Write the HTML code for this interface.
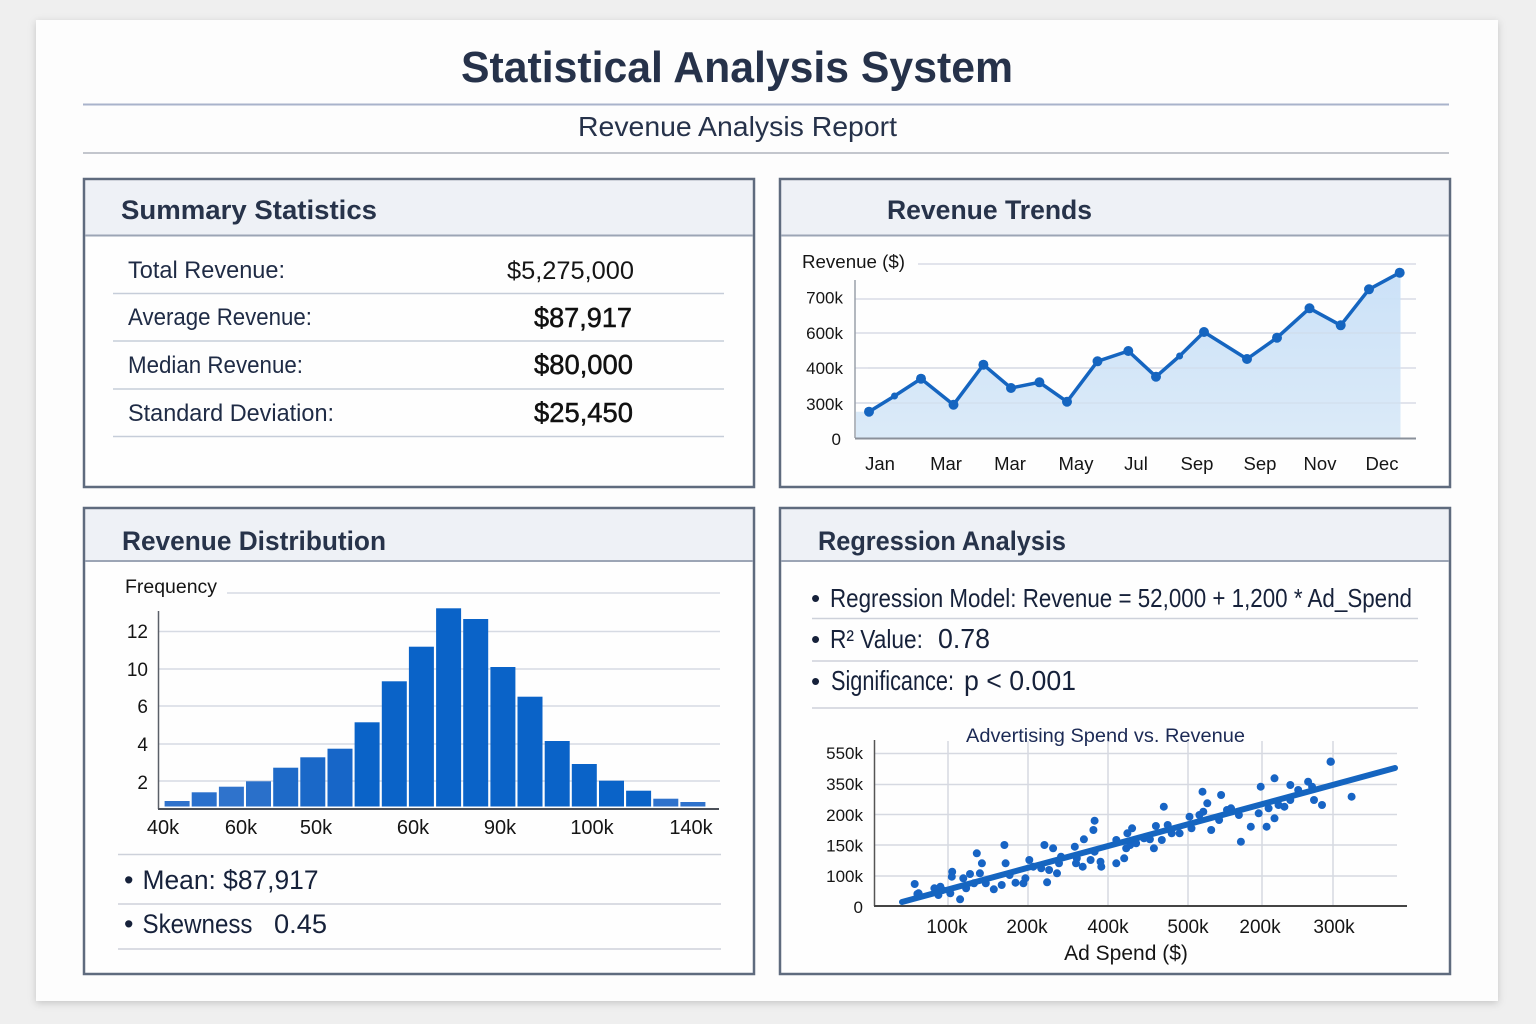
<!DOCTYPE html>
<html><head><meta charset="utf-8"><style>
html,body{margin:0;padding:0;background:#efefef;}
svg{display:block;}
text{font-family:"Liberation Sans",sans-serif;}
</style></head><body>
<svg width="1536" height="1024" viewBox="0 0 1536 1024" xmlns="http://www.w3.org/2000/svg">
<defs>
<filter id="sh" x="-5%" y="-5%" width="110%" height="110%"><feDropShadow dx="0" dy="2" stdDeviation="4" flood-color="#000" flood-opacity="0.18"/></filter>
<linearGradient id="fillg" x1="0" y1="0" x2="0" y2="1"><stop offset="0" stop-color="#c9e0f7"/><stop offset="1" stop-color="#d9e9f8"/></linearGradient>
</defs>
<rect width="1536" height="1024" fill="#efefef"/>
<rect x="36" y="20" width="1462" height="981" fill="#fdfdfd" filter="url(#sh)"/>

<!-- Title -->
<text x="461" y="82" font-size="44" font-weight="bold" fill="#26324a" textLength="552" lengthAdjust="spacingAndGlyphs">Statistical Analysis System</text>
<line x1="83" y1="104.5" x2="1449" y2="104.5" stroke="#a9b3cb" stroke-width="2"/>
<text x="578" y="136" font-size="28" fill="#26324a" textLength="319" lengthAdjust="spacingAndGlyphs">Revenue Analysis Report</text>
<line x1="83" y1="153" x2="1449" y2="153" stroke="#c3c6cd" stroke-width="2"/>

<!-- Panels -->
<g stroke="#5f6b7e" stroke-width="2.5">
<rect x="84" y="179" width="670" height="308" fill="#fefefe"/>
<rect x="780" y="179" width="670" height="308" fill="#fefefe"/>
<rect x="84" y="508" width="670" height="466" fill="#fefefe"/>
<rect x="780" y="508" width="670" height="466" fill="#fefefe"/>
</g>
<g fill="#eef1f6">
<rect x="85.5" y="180.5" width="667" height="54"/>
<rect x="781.5" y="180.5" width="667" height="54"/>
<rect x="85.5" y="509.5" width="667" height="51"/>
<rect x="781.5" y="509.5" width="667" height="51"/>
</g>
<g stroke="#9ca5b5" stroke-width="2">
<line x1="85" y1="235.5" x2="753" y2="235.5"/>
<line x1="781" y1="235.5" x2="1449" y2="235.5"/>
<line x1="85" y1="561" x2="753" y2="561"/>
<line x1="781" y1="561" x2="1449" y2="561"/>
</g>
<g font-size="27" font-weight="bold" fill="#27334a">
<text x="121" y="219" textLength="256" lengthAdjust="spacingAndGlyphs">Summary Statistics</text>
<text x="887" y="219" textLength="205" lengthAdjust="spacingAndGlyphs">Revenue Trends</text>
<text x="122" y="550" textLength="264" lengthAdjust="spacingAndGlyphs">Revenue Distribution</text>
<text x="818" y="550" textLength="248" lengthAdjust="spacingAndGlyphs">Regression Analysis</text>
</g>

<!-- Summary statistics -->
<g stroke="#c6cdd9" stroke-width="1.5">
<line x1="113" y1="293.5" x2="724" y2="293.5"/>
<line x1="113" y1="341" x2="724" y2="341"/>
<line x1="113" y1="389" x2="724" y2="389"/>
<line x1="113" y1="436.5" x2="724" y2="436.5"/>
</g>
<g font-size="24" fill="#1f2b45">
<text x="128" y="278" textLength="157" lengthAdjust="spacingAndGlyphs">Total Revenue:</text>
<text x="128" y="325" textLength="184" lengthAdjust="spacingAndGlyphs">Average Revenue:</text>
<text x="128" y="373" textLength="175" lengthAdjust="spacingAndGlyphs">Median Revenue:</text>
<text x="128" y="421" textLength="206" lengthAdjust="spacingAndGlyphs">Standard Deviation:</text>
</g>
<text x="507" y="279" font-size="25" fill="#151515" textLength="127" lengthAdjust="spacingAndGlyphs">$5,275,000</text>
<g font-size="27.5" fill="#111" stroke="#111" stroke-width="0.5">
<text x="534" y="327" textLength="98" lengthAdjust="spacingAndGlyphs">$87,917</text>
<text x="534" y="374" textLength="99" lengthAdjust="spacingAndGlyphs">$80,000</text>
<text x="534" y="422" textLength="99" lengthAdjust="spacingAndGlyphs">$25,450</text>
</g>

<!-- Revenue Trends chart -->
<text x="802" y="268" font-size="18" fill="#151515" textLength="103" lengthAdjust="spacingAndGlyphs">Revenue ($)</text>
<g stroke="#d8dce5" stroke-width="1.5">
<line x1="918" y1="264" x2="1416" y2="264"/>
<line x1="855" y1="299" x2="1416" y2="299"/>
<line x1="855" y1="333" x2="1416" y2="333"/>
<line x1="855" y1="368" x2="1416" y2="368"/>
<line x1="855" y1="403" x2="1416" y2="403"/>
</g>
<polygon fill="url(#fillg)" opacity="0.95" points="856,411.7 869,411.7 894.5,396 921,378.7 953.5,404.7 983.4,364.7 1011,388 1039.4,382.3 1067,401.7 1097.5,361.3 1128.3,351 1156,376.7 1179.6,356 1204,332 1247,359 1277,337.7 1309.5,308.3 1340.7,325.3 1369,289.3 1400.5,272.7 1400.5,438 856,438"/>
<g stroke="#d0d6e2" stroke-width="1" opacity="0.6">
<line x1="856" y1="403" x2="1400" y2="403"/>
<line x1="868" y1="368" x2="1400" y2="368"/>
<line x1="1000" y1="333" x2="1400" y2="333"/>
</g>
<line x1="855" y1="280" x2="855" y2="438" stroke="#9aa0aa" stroke-width="1.5"/>
<line x1="855" y1="438.5" x2="1416" y2="438.5" stroke="#8a909a" stroke-width="2"/>
<polyline fill="none" stroke="#1565c0" stroke-width="3.5" stroke-linejoin="round" points="869,411.7 894.5,396 921,378.7 953.5,404.7 983.4,364.7 1011,388 1039.4,382.3 1067,401.7 1097.5,361.3 1128.3,351 1156,376.7 1179.6,356 1204,332 1247,359 1277,337.7 1309.5,308.3 1340.7,325.3 1369,289.3 1399.7,272.7"/>
<g fill="#1565c0">
<circle cx="869" cy="411.7" r="5"/><circle cx="894.5" cy="396" r="3.5"/><circle cx="921" cy="378.7" r="5"/><circle cx="953.5" cy="404.7" r="5"/><circle cx="983.4" cy="364.7" r="5"/><circle cx="1011" cy="388" r="5"/><circle cx="1039.4" cy="382.3" r="5"/><circle cx="1067" cy="401.7" r="5"/><circle cx="1097.5" cy="361.3" r="5"/><circle cx="1128.3" cy="351" r="5"/><circle cx="1156" cy="376.7" r="5"/><circle cx="1179.6" cy="356" r="3.5"/><circle cx="1204" cy="332" r="5"/><circle cx="1247" cy="359" r="5"/><circle cx="1277" cy="337.7" r="5"/><circle cx="1309.5" cy="308.3" r="5"/><circle cx="1340.7" cy="325.3" r="5"/><circle cx="1369" cy="289.3" r="5"/><circle cx="1399.7" cy="272.7" r="5"/>
</g>
<g font-size="17" fill="#151515" text-anchor="end">
<text x="843" y="303.5">700k</text>
<text x="843" y="339">600k</text>
<text x="843" y="374">400k</text>
<text x="843" y="410">300k</text>
<text x="841" y="445">0</text>
</g>
<g font-size="18.5" fill="#151515" text-anchor="middle">
<text x="880" y="470">Jan</text>
<text x="946" y="470">Mar</text>
<text x="1010" y="470">Mar</text>
<text x="1076" y="470">May</text>
<text x="1136" y="470">Jul</text>
<text x="1197" y="470">Sep</text>
<text x="1260" y="470">Sep</text>
<text x="1320" y="470">Nov</text>
<text x="1382" y="470">Dec</text>
</g>

<!-- Histogram -->
<text x="125" y="593" font-size="19" fill="#151515" textLength="92" lengthAdjust="spacingAndGlyphs">Frequency</text>
<g stroke="#d6dae3" stroke-width="1.5">
<line x1="227" y1="593" x2="720" y2="593"/>
<line x1="158" y1="631.5" x2="720" y2="631.5"/>
<line x1="158" y1="669" x2="720" y2="669"/>
<line x1="158" y1="706" x2="720" y2="706"/>
<line x1="158" y1="744" x2="720" y2="744"/>
<line x1="158" y1="781" x2="720" y2="781"/>
</g>
<g fill="#0a63c8">
<rect x="164.6" y="801" width="25" height="5.5" fill="#2f72cc"/>
<rect x="191.7" y="792.3" width="25" height="14.2" fill="#2a70cc"/>
<rect x="218.9" y="786.7" width="25" height="19.8" fill="#2f73cc"/>
<rect x="246" y="781.3" width="25" height="25.2" fill="#2a70ca"/>
<rect x="273.2" y="767.7" width="25" height="38.8" fill="#1e6ac8"/>
<rect x="300.3" y="757.3" width="25" height="49.2" fill="#1a68c8"/>
<rect x="327.5" y="748.7" width="25" height="57.8" fill="#1766c8"/>
<rect x="354.6" y="722.3" width="25" height="84.2"/>
<rect x="381.8" y="681.3" width="25" height="125.2"/>
<rect x="408.9" y="646.7" width="25" height="159.8"/>
<rect x="436.1" y="608.3" width="25" height="198.2"/>
<rect x="463.2" y="619" width="25" height="187.5"/>
<rect x="490.4" y="667" width="25" height="139.5"/>
<rect x="517.5" y="696.7" width="25" height="109.8"/>
<rect x="544.7" y="741" width="25" height="65.5"/>
<rect x="571.8" y="764" width="25" height="42.5"/>
<rect x="599" y="780.7" width="25" height="25.8"/>
<rect x="626.1" y="790.7" width="25" height="15.8"/>
<rect x="653.3" y="798.7" width="25" height="7.8" fill="#2f72cc"/>
<rect x="680.4" y="802" width="25" height="4.5" fill="#2f72cc"/>
</g>
<line x1="158.5" y1="611" x2="158.5" y2="809" stroke="#5a5f68" stroke-width="1.5"/>
<line x1="158" y1="809" x2="719" y2="809" stroke="#4a4f58" stroke-width="2"/>
<g font-size="19" fill="#151515" text-anchor="end">
<text x="148" y="638">12</text>
<text x="148" y="676">10</text>
<text x="148" y="713">6</text>
<text x="148" y="751">4</text>
<text x="148" y="789">2</text>
</g>
<g font-size="20" fill="#151515" text-anchor="middle">
<text x="163" y="834">40k</text>
<text x="241" y="834">60k</text>
<text x="316" y="834">50k</text>
<text x="413" y="834">60k</text>
<text x="500" y="834">90k</text>
<text x="592" y="834">100k</text>
<text x="691" y="834">140k</text>
</g>
<g stroke="#cdd1da" stroke-width="1.5">
<line x1="118" y1="854.5" x2="721" y2="854.5"/>
<line x1="118" y1="904" x2="721" y2="904"/>
<line x1="118" y1="949" x2="721" y2="949"/>
</g>
<g font-size="27" fill="#16213a">
<text x="124" y="889">•</text>
<text x="142.5" y="889" textLength="176" lengthAdjust="spacingAndGlyphs">Mean: $87,917</text>
<text x="124" y="933">•</text>
<text x="142.5" y="933" textLength="110" lengthAdjust="spacingAndGlyphs">Skewness</text>
<text x="274" y="933" textLength="53" lengthAdjust="spacingAndGlyphs">0.45</text>
</g>

<!-- Regression -->
<g stroke="#cdd1da" stroke-width="1.5">
<line x1="812" y1="618.5" x2="1418" y2="618.5"/>
<line x1="812" y1="661" x2="1418" y2="661"/>
<line x1="812" y1="708" x2="1418" y2="708"/>
</g>
<g font-size="26" fill="#16213a">
<text x="811" y="607">•</text>
<text x="830" y="607" textLength="582" lengthAdjust="spacingAndGlyphs">Regression Model: Revenue = 52,000 + 1,200 * Ad_Spend</text>
<text x="811" y="648">•</text>
<text x="830" y="648" textLength="93" lengthAdjust="spacingAndGlyphs">R² Value:</text>
<text x="938" y="648" font-size="28" textLength="52" lengthAdjust="spacingAndGlyphs">0.78</text>
<text x="811" y="690">•</text>
<text x="831" y="690" font-size="28" textLength="123" lengthAdjust="spacingAndGlyphs">Significance:</text>
<text x="964" y="690" font-size="28" textLength="112" lengthAdjust="spacingAndGlyphs">p &lt; 0.001</text>
</g>

<!-- Scatter -->
<text x="966" y="742" font-size="19.5" fill="#1c2a55" textLength="279" lengthAdjust="spacingAndGlyphs">Advertising Spend vs. Revenue</text>
<g stroke="#d6d9e1" stroke-width="1.5">
<line x1="874" y1="753.5" x2="1397" y2="753.5"/>
<line x1="874" y1="784.5" x2="1397" y2="784.5"/>
<line x1="874" y1="814.5" x2="1397" y2="814.5"/>
<line x1="874" y1="845" x2="1397" y2="845"/>
<line x1="874" y1="876" x2="1397" y2="876"/>
<line x1="948" y1="741" x2="948" y2="906"/>
<line x1="1028" y1="741" x2="1028" y2="906"/>
<line x1="1108" y1="741" x2="1108" y2="906"/>
<line x1="1188" y1="741" x2="1188" y2="906"/>
<line x1="1262" y1="741" x2="1262" y2="906"/>
<line x1="1333" y1="741" x2="1333" y2="906"/>
</g>
<line x1="874.5" y1="740" x2="874.5" y2="906" stroke="#555" stroke-width="1.5"/>
<line x1="874" y1="906" x2="1407" y2="906" stroke="#444" stroke-width="2"/>
<g fill="#1764c4">
<circle cx="914.7" cy="884" r="4"/><circle cx="917.4" cy="894" r="4"/><circle cx="918.6" cy="893.3" r="4"/><circle cx="934.4" cy="888.3" r="4"/><circle cx="936.4" cy="891.7" r="4"/><circle cx="938.4" cy="895" r="4"/><circle cx="940.4" cy="886.7" r="4"/><circle cx="942.3" cy="890" r="4"/><circle cx="950.3" cy="893.3" r="4"/><circle cx="951.8" cy="876.7" r="4"/><circle cx="952.2" cy="871.7" r="4"/><circle cx="960.1" cy="899.3" r="4"/><circle cx="963.3" cy="878.3" r="4"/><circle cx="966.1" cy="888.3" r="4"/><circle cx="970" cy="874" r="4"/><circle cx="974" cy="883.3" r="4"/><circle cx="976.8" cy="853.3" r="4"/><circle cx="979.9" cy="873.3" r="4"/><circle cx="981.9" cy="863.3" r="4"/><circle cx="985.8" cy="883.3" r="4"/><circle cx="993.8" cy="889.3" r="4"/><circle cx="1001.7" cy="885" r="4"/><circle cx="1004.4" cy="845" r="4"/><circle cx="1005.6" cy="863.3" r="4"/><circle cx="1009.6" cy="875" r="4"/><circle cx="1015.5" cy="882.7" r="4"/><circle cx="1023.4" cy="883.3" r="4"/><circle cx="1025.4" cy="878.3" r="4"/><circle cx="1029.3" cy="860" r="4"/><circle cx="1033.3" cy="866.7" r="4"/><circle cx="1041.2" cy="868.3" r="4"/><circle cx="1044.4" cy="845" r="4"/><circle cx="1047.1" cy="882.3" r="4"/><circle cx="1049.1" cy="870" r="4"/><circle cx="1053.1" cy="848.3" r="4"/><circle cx="1057" cy="873.3" r="4"/><circle cx="1059" cy="863.3" r="4"/><circle cx="1061" cy="856.7" r="4"/><circle cx="1074.8" cy="846.7" r="4"/><circle cx="1076" cy="863.3" r="4"/><circle cx="1076.8" cy="858.3" r="4"/><circle cx="1082.7" cy="866.7" r="4"/><circle cx="1083.9" cy="839.3" r="4"/><circle cx="1090.6" cy="860" r="4"/><circle cx="1093.4" cy="830" r="4"/><circle cx="1094.6" cy="820.7" r="4"/><circle cx="1094.6" cy="851.7" r="4"/><circle cx="1100.5" cy="861.7" r="4"/><circle cx="1101.3" cy="866.7" r="4"/><circle cx="1116.3" cy="863.3" r="4"/><circle cx="1116.3" cy="840" r="4"/><circle cx="1124.2" cy="858.3" r="4"/><circle cx="1126.2" cy="848.3" r="4"/><circle cx="1127.4" cy="833.3" r="4"/><circle cx="1130.2" cy="845" r="4"/><circle cx="1132.1" cy="828.3" r="4"/><circle cx="1136.1" cy="843.3" r="4"/><circle cx="1144" cy="838.3" r="4"/><circle cx="1149.9" cy="839.3" r="4"/><circle cx="1153.9" cy="848.3" r="4"/><circle cx="1155.9" cy="826" r="4"/><circle cx="1161.8" cy="840" r="4"/><circle cx="1163.8" cy="806.7" r="4"/><circle cx="1167.7" cy="825" r="4"/><circle cx="1171.7" cy="833.3" r="4"/><circle cx="1179.6" cy="833.3" r="4"/><circle cx="1189.5" cy="816.7" r="4"/><circle cx="1191.5" cy="828.3" r="4"/><circle cx="1199.4" cy="815" r="4"/><circle cx="1202.5" cy="791.7" r="4"/><circle cx="1203.3" cy="811.7" r="4"/><circle cx="1207.3" cy="803.3" r="4"/><circle cx="1211.2" cy="830" r="4"/><circle cx="1219.1" cy="820" r="4"/><circle cx="1221.1" cy="795" r="4"/><circle cx="1227" cy="810" r="4"/><circle cx="1231" cy="808.3" r="4"/><circle cx="1238.9" cy="815" r="4"/><circle cx="1240.9" cy="841.7" r="4"/><circle cx="1250.8" cy="826.7" r="4"/><circle cx="1258.7" cy="813.3" r="4"/><circle cx="1260.7" cy="786.7" r="4"/><circle cx="1266.6" cy="826.7" r="4"/><circle cx="1268.6" cy="808.3" r="4"/><circle cx="1274.5" cy="818.3" r="4"/><circle cx="1274.5" cy="778.3" r="4"/><circle cx="1278.5" cy="805" r="4"/><circle cx="1284.4" cy="806.7" r="4"/><circle cx="1290.3" cy="800" r="4"/><circle cx="1290.3" cy="785" r="4"/><circle cx="1298.2" cy="790" r="4"/><circle cx="1308.1" cy="781.7" r="4"/><circle cx="1312.1" cy="786.7" r="4"/><circle cx="1314" cy="800" r="4"/><circle cx="1322" cy="805" r="4"/><circle cx="1330.7" cy="761.7" r="4.2"/><circle cx="1351.6" cy="796.7" r="4"/>
</g>
<line x1="902" y1="902" x2="1395" y2="768" stroke="#1565c0" stroke-width="6" stroke-linecap="round"/>
<g font-size="17" fill="#151515" text-anchor="end">
<text x="863" y="759">550k</text>
<text x="863" y="790">350k</text>
<text x="863" y="821">200k</text>
<text x="863" y="851.5">150k</text>
<text x="863" y="882">100k</text>
<text x="863" y="913">0</text>
</g>
<g font-size="19" fill="#151515" text-anchor="middle">
<text x="947" y="933">100k</text>
<text x="1027" y="933">200k</text>
<text x="1108" y="933">400k</text>
<text x="1188" y="933">500k</text>
<text x="1260" y="933">200k</text>
<text x="1334" y="933">300k</text>
</g>
<text x="1126" y="960" font-size="21" fill="#151515" text-anchor="middle">Ad Spend ($)</text>
</svg>
</body></html>
